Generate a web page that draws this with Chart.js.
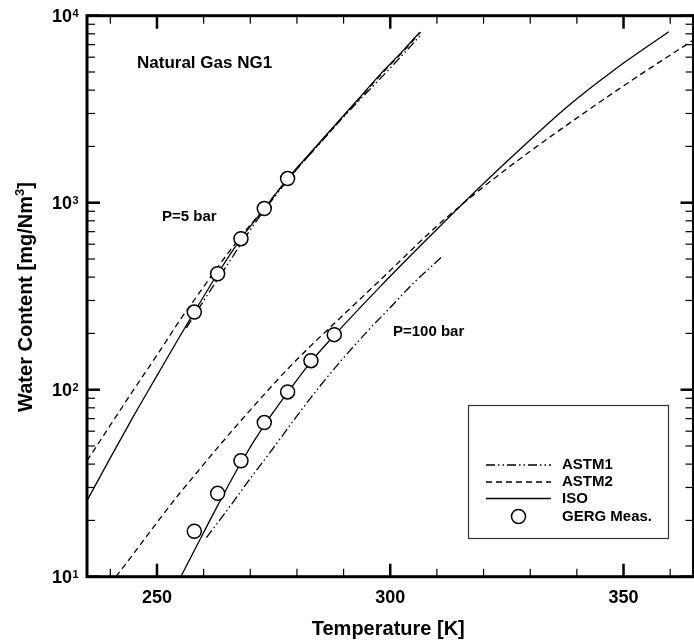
<!DOCTYPE html>
<html><head><meta charset="utf-8">
<script src="https://cdn.jsdelivr.net/npm/chart.js@4.4.1/dist/chart.umd.min.js"></script>
<style>
html,body{margin:0;padding:0;background:#fff;overflow:hidden;width:694px;height:644px}
#wrap{width:702px;height:644px;position:relative}
</style></head>
<body><div id="wrap"><canvas id="c" width="702" height="644"></canvas></div>
<script>
const FONT = '"Liberation Sans", Arial, Helvetica, sans-serif';

// P = 5 bar
const iso5T   = [235,240,245,250,255,258,263,268,273,278,283,288,293,298,303,306.3];
const iso5W   = [25.5,43.2,72.4,119,195,260,417,643,929,1346,1862,2570,3548,4898,6607,8147];
const astm2_5T = [235,240,245,250,255,258,263,268,273,278,283,288,293,298,303,306.5];
const astm2_5W = [41.7,64.6,100,153,237,302,452,661,933,1334,1841,2541,3508,4842,6531,8166];
const astm1_5T = [256.3,260,265,270,275,280,285,290,295,300,306.5];
const astm1_5W = [214,299,462,716,1059,1514,2089,2884,3890,5248,7852];
const gerg5T = [258,263,268,273,278];
const gerg5W = [260,417,642,930,1346];

// P = 100 bar
const iso100T = [255.1,258,263,268,273,278,283,288,298,308,318,328,338,348,359.7];
const iso100W = [10,13.8,24,40.7,64.6,96.6,141,195,359,643,1135,1950,3273,5129,8204];
const astm2_100T = [241.2,245,250,255,258,263,268,273,278,283,288,298,310,320,330,343,353,365];
const astm2_100W = [10,13.3,19.5,28.2,34.7,49,68.4,94.4,129,172,226,389,750,1216,1884,3199,4732,7413];
const astm1_100T = [260.6,265,270,275,280,285,290,295,300,305,311];
const astm1_100W = [16.2,22.6,33.5,49,72.4,105,148,204,275,372,512];
const gerg100T = [258,263,268,273,278,283,288];
const gerg100W = [17.5,27.9,41.7,66.7,97.3,143,197];

// Axis ticks
const xMajor = [250,300,350];
const xMinor = [240,260,270,280,290,310,320,330,340,360];
const yMajor = [10,100,1000,10000];
const yExp = ['1','2','3','4'];
const legendLabels = ['ASTM1','ASTM2','ISO','GERG Meas.'];

const pts = (T,W) => T.map((t,i)=>({x:t,y:W[i]}));
const DASH2 = [6,4];
const DASH1 = [9,3,1.5,3,1.5,3];

const lineDs = (label, T, W, dash) => ({
  label, data: pts(T,W), borderColor:'#000', borderWidth:1.3, borderDash:dash,
  pointRadius:0, fill:false, cubicInterpolationMode:'monotone', order:1
});
const ptDs = (label, T, W) => ({
  label, data: pts(T,W), showLine:false, pointRadius:7, pointHoverRadius:7,
  pointBackgroundColor:'#fff', pointBorderColor:'#000', pointBorderWidth:1.5, order:0
});

const datasets = [
  lineDs('ASTM1', astm1_5T, astm1_5W, DASH1),
  lineDs('ASTM2', astm2_5T, astm2_5W, DASH2),
  lineDs('ISO', iso5T, iso5W, []),
  lineDs('ASTM1 100', astm1_100T, astm1_100W, DASH1),
  lineDs('ASTM2 100', astm2_100T, astm2_100W, DASH2),
  lineDs('ISO 100', iso100T, iso100W, []),
  ptDs('GERG Meas.', gerg5T, gerg5W),
  ptDs('GERG Meas. 100', gerg100T, gerg100W)
];

const frame = {
  id:'frame',
  afterDraw(chart){
    const ctx = chart.ctx, xs = chart.scales.x, ys = chart.scales.y, a = chart.chartArea;
    ctx.save();
    ctx.strokeStyle = '#000'; ctx.fillStyle = '#000';
    const tick = (x1,y1,x2,y2,w)=>{ctx.lineWidth=w;ctx.beginPath();ctx.moveTo(x1,y1);ctx.lineTo(x2,y2);ctx.stroke();};
    xMinor.forEach(t=>{const x=xs.getPixelForValue(t);tick(x,a.bottom,x,a.bottom-8,1.2);tick(x,a.top,x,a.top+8,1.2);});
    xMajor.forEach(t=>{const x=xs.getPixelForValue(t);tick(x,a.bottom,x,a.bottom-13,2.5);tick(x,a.top,x,a.top+13,2.5);});
    for (let d=10; d<10000; d*=10){
      for (let m=2;m<=9;m++){const y=ys.getPixelForValue(d*m);tick(a.left,y,a.left+8,y,1.2);tick(a.right,y,a.right-8,y,1.2);}
    }
    yMajor.forEach(v=>{const y=ys.getPixelForValue(v);tick(a.left,y,a.left+13,y,2.5);tick(a.right,y,a.right-13,y,2.5);});
    ctx.lineWidth = 3;
    ctx.strokeRect(a.left, a.top, a.right-a.left, a.bottom-a.top);
    // x tick labels
    ctx.font = 'bold 18px '+FONT; ctx.textAlign='center'; ctx.textBaseline='middle';
    xMajor.forEach(t=>ctx.fillText(String(t), xs.getPixelForValue(t), 598));
    // y tick labels 10^n
    yMajor.forEach((v,i)=>{
      const y = ys.getPixelForValue(v);
      ctx.font='bold 18px '+FONT; ctx.textAlign='right'; ctx.textBaseline='alphabetic';
      ctx.fillText('10', 72, y+6.5);
      ctx.font='bold 11px '+FONT; ctx.textAlign='left';
      ctx.fillText(yExp[i], 72.5, y+1.5);
    });
    // axis titles
    ctx.font='bold 20px '+FONT; ctx.textAlign='center'; ctx.textBaseline='middle';
    ctx.fillText('Temperature [K]', xs.getPixelForValue(300) - 2, 629);
    ctx.save();
    ctx.translate(25, 297); ctx.rotate(-Math.PI/2);
    const t1='Water Content [mg/Nm', t2='3', t3=']';
    ctx.font='bold 20px '+FONT; const w1=ctx.measureText(t1).width, w3=ctx.measureText(t3).width;
    ctx.font='bold 13px '+FONT; const w2=ctx.measureText(t2).width;
    let sx=-(w1+w2+w3)/2;
    ctx.textAlign='left'; ctx.textBaseline='alphabetic';
    ctx.font='bold 20px '+FONT; ctx.fillText(t1,sx,7); sx+=w1;
    ctx.font='bold 13px '+FONT; ctx.fillText(t2,sx,-1); sx+=w2;
    ctx.font='bold 20px '+FONT; ctx.fillText(t3,sx,7);
    ctx.restore();
    // annotations
    ctx.textAlign='left'; ctx.textBaseline='middle';
    ctx.font='bold 17px '+FONT; ctx.fillText('Natural Gas NG1', 137, 63);
    ctx.font='bold 15px '+FONT; ctx.fillText('P=5 bar', 162, 217);
    ctx.fillText('P=100 bar', 393, 332);
    // legend
    ctx.fillStyle='#fff'; ctx.fillRect(468,405,201,134);
    ctx.strokeStyle='#333'; ctx.lineWidth=1.2; ctx.strokeRect(468.5,405.5,200,133);
    ctx.strokeStyle='#000'; ctx.fillStyle='#000';
    const rows=[465,482,498.5,516.5];
    const dsIdx=[0,1,2,6];
    rows.forEach((y,i)=>{
      const ds = chart.data.datasets[dsIdx[i]];
      if (ds.showLine===false){
        ctx.setLineDash([]); ctx.lineWidth=ds.pointBorderWidth; ctx.fillStyle='#fff';
        ctx.beginPath(); ctx.arc(518.5,y,ds.pointRadius,0,Math.PI*2); ctx.fill(); ctx.stroke();
        ctx.fillStyle='#000';
      } else {
        ctx.setLineDash(ds.borderDash); ctx.lineWidth=ds.borderWidth;
        ctx.beginPath(); ctx.moveTo(486,y); ctx.lineTo(551,y); ctx.stroke();
        ctx.setLineDash([]);
      }
      ctx.font='bold 15px '+FONT; ctx.textAlign='left'; ctx.textBaseline='middle';
      ctx.fillText(legendLabels[i], 562, y);
    });
    ctx.restore();
  }
};

new Chart(document.getElementById('c'), {
  type:'line',
  data:{datasets},
  options:{
    responsive:false, devicePixelRatio:1, animation:false,
    layout:{padding:{left:87,right:1,top:15.7,bottom:67.3}},
    scales:{
      x:{type:'linear',min:235,max:365,display:false},
      y:{type:'logarithmic',min:10,max:10000,display:false}
    },
    plugins:{legend:{display:false},tooltip:{enabled:false}}
  },
  plugins:[frame]
});
</script>
</body></html>
